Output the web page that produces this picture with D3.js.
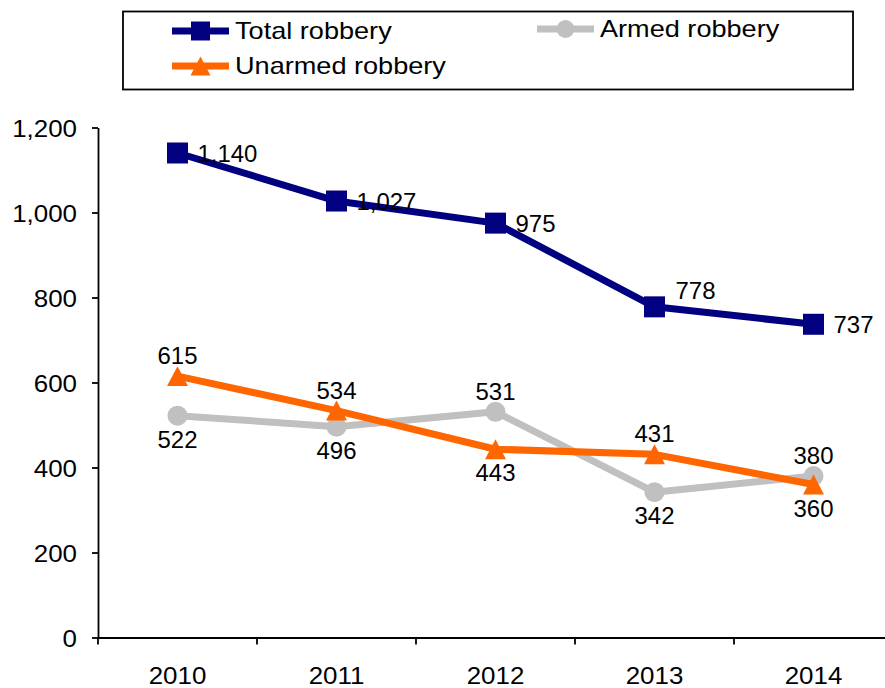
<!DOCTYPE html>
<html>
<head>
<meta charset="utf-8">
<script src="https://cdn.jsdelivr.net/npm/d3@7"></script>
<style>
  html, body { margin: 0; padding: 0; background: #fff; }
  svg { display: block; }
  text { font-family: "Liberation Sans", Arial, sans-serif; fill: #000; }
</style>
</head>
<body>
<svg id="chart" width="885" height="688"></svg>
<script>
// Robbery offences by year
const years = ["2010", "2011", "2012", "2013", "2014"];
const totalRobbery = [1140, 1027, 975, 778, 737];
const armedRobbery = [522, 496, 531, 342, 380];
const unarmedRobbery = [615, 534, 443, 431, 360];
const yTicks = [0, 200, 400, 600, 800, 1000, 1200];

// where each value label sits relative to its point
const totalLabelPos = ["right", "right", "right", "upright", "right"];
const armedLabelPos = ["below", "below", "above", "below", "above"];
const unarmedLabelPos = ["above", "above", "below", "above", "below"];

const series = [
  { name: "Total robbery", values: totalRobbery, pos: totalLabelPos, color: "#000080", marker: "square" },
  { name: "Armed robbery", values: armedRobbery, pos: armedLabelPos, color: "#C0C0C0", marker: "circle" },
  { name: "Unarmed robbery", values: unarmedRobbery, pos: unarmedLabelPos, color: "#FF6600", marker: "triangle" }
];

const svg = d3.select("#chart");
const plot = { left: 98, right: 893, top: 127.5, bottom: 637.5 };

const x = d3.scaleBand().domain(years).range([plot.left, plot.right]);
const cx = d => x(d) + x.bandwidth() / 2;
const y = d3.scaleLinear().domain([0, 1200]).range([plot.bottom, plot.top]);

const AXIS_SX = 1.08;    // horizontal stretch of axis type
const LEGEND_SX = 1.13;  // horizontal stretch of legend type
const LABEL_SX = 1.02;   // horizontal stretch of value labels

// symbol shapes, bbox-centred
const triangleSymbol = {
  draw(ctx, size) {
    const w = Math.sqrt(size);
    const h = w * 0.95;
    ctx.moveTo(0, -h / 2);
    ctx.lineTo(w / 2, h / 2);
    ctx.lineTo(-w / 2, h / 2);
    ctx.closePath();
  }
};
function symbolPath(kind, big) {
  if (kind === "square") return d3.symbol(d3.symbolSquare, big ? 441 : 361)();
  if (kind === "circle") return d3.symbol(d3.symbolCircle, Math.PI * (big ? 100 : 81))();
  return d3.symbol(triangleSymbol, big ? 441 : 400)();
}

// Y axis
const yAxisG = svg.append("g")
  .attr("transform", `translate(${plot.left},0)`)
  .call(d3.axisLeft(y).tickValues(yTicks).tickFormat(d3.format(",")).tickSize(6).tickSizeOuter(0));
yAxisG.select(".domain").attr("stroke", "#000").attr("stroke-width", 1.8);
yAxisG.selectAll(".tick line").attr("stroke", "#000").attr("stroke-width", 1.8);
yAxisG.selectAll(".tick text")
  .attr("x", null).attr("dy", null)
  .attr("transform", `translate(-21,8.5) scale(${AXIS_SX},1)`)
  .attr("text-anchor", "end")
  .style("font-family", "'Liberation Sans', Arial, sans-serif")
  .style("font-size", "24px")
  .attr("fill", "#000");

// X axis
const xAxisG = svg.append("g")
  .attr("transform", `translate(0,${plot.bottom})`)
  .call(d3.axisBottom(x).tickSize(0).tickSizeOuter(0));
xAxisG.select(".domain").attr("stroke", "#000").attr("stroke-width", 1.8);
xAxisG.selectAll(".tick text")
  .attr("y", null).attr("dy", null)
  .attr("transform", `translate(0,46.5) scale(${AXIS_SX},1)`)
  .style("font-family", "'Liberation Sans', Arial, sans-serif")
  .style("font-size", "24px")
  .attr("fill", "#000");
// category boundary ticks
const bounds = years.map(d => x(d)).concat([x(years[years.length - 1]) + x.bandwidth()]);
xAxisG.selectAll(".bound")
  .data(bounds)
  .join("line")
  .attr("class", "bound")
  .attr("x1", d => d).attr("x2", d => d)
  .attr("y1", 0).attr("y2", 7)
  .attr("stroke", "#000").attr("stroke-width", 1.8);

// Lines and markers
const line = d3.line().x((v, i) => cx(years[i])).y(v => y(v));
series.forEach(s => {
  const g = svg.append("g");
  g.append("path")
    .attr("d", line(s.values))
    .attr("fill", "none")
    .attr("stroke", s.color)
    .attr("stroke-width", 7)
    .attr("stroke-linejoin", "round")
    .attr("stroke-linecap", "round");
  g.selectAll(".mk")
    .data(s.values)
    .join("path")
    .attr("class", "mk")
    .attr("d", symbolPath(s.marker, true))
    .attr("transform", (v, i) => `translate(${cx(years[i])},${y(v)})`)
    .attr("fill", s.color);
});

// Value labels
const fmt = d3.format(",");
series.forEach(s => {
  svg.append("g").selectAll("text")
    .data(s.values)
    .join("text")
    .attr("transform", (v, i) => {
      const px = cx(years[i]), py = y(v);
      const p = s.pos[i];
      let tx = px, ty = py;
      if (p === "right") { tx = px + 20; ty = py + 8.5; }
      else if (p === "upright") { tx = px + 21; ty = py - 7.5; }
      else if (p === "above") { tx = px; ty = py - 12; }
      else { tx = px; ty = py + 32; }
      return `translate(${tx},${ty}) scale(${LABEL_SX},1)`;
    })
    .attr("text-anchor", (v, i) => (s.pos[i] === "right" || s.pos[i] === "upright") ? "start" : "middle")
    .style("font-size", "23.5px")
    .text(v => fmt(v));
});

// Legend
const legend = svg.append("g");
legend.append("rect")
  .attr("x", 123).attr("y", 11.5)
  .attr("width", 730).attr("height", 78)
  .attr("fill", "#fff").attr("stroke", "#000").attr("stroke-width", 1.8);
const legendItems = [
  { s: series[0], lx: 172, ly: 31 },
  { s: series[1], lx: 537, ly: 29 },
  { s: series[2], lx: 172, ly: 66 }
];
legendItems.forEach(it => {
  const g = legend.append("g").attr("transform", `translate(${it.lx},${it.ly})`);
  g.append("line")
    .attr("x1", 0).attr("x2", 57).attr("y1", 0).attr("y2", 0)
    .attr("stroke", it.s.color).attr("stroke-width", 7);
  g.append("path")
    .attr("d", symbolPath(it.s.marker, false))
    .attr("transform", "translate(28.5,0)")
    .attr("fill", it.s.color);
  g.append("text")
    .attr("transform", `translate(63,8) scale(${LEGEND_SX},1)`)
    .style("font-size", "24px")
    .text(it.s.name);
});
</script>
</body>
</html>
